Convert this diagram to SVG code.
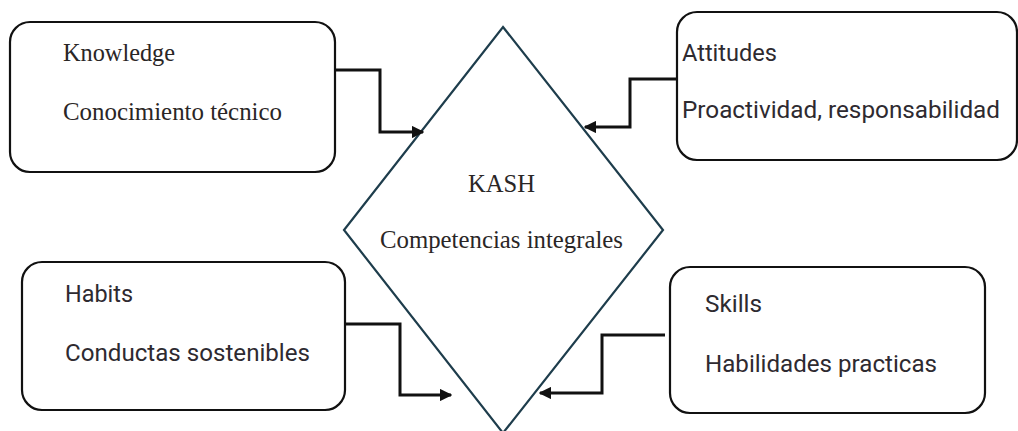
<svg xmlns="http://www.w3.org/2000/svg" width="1018" height="431" viewBox="0 0 1018 431">
  <style>
    .box { fill: #ffffff; stroke: #111111; stroke-width: 2.2; }
    .hub { fill: #ffffff; stroke: #1e3d4c; stroke-width: 2.2; }
    .serif { font-family: "Liberation Serif", "Times New Roman", serif; font-size: 26px; fill: #2a2626; }
    .sans { font-family: Roboto, "Liberation Sans", Arial, sans-serif; font-size: 24px; fill: #2e2a30; }
    .link { fill: none; stroke: #111111; stroke-width: 3; }
  </style>
  <defs>
    <marker id="head" viewBox="0 0 10 10" refX="9" refY="5" markerWidth="4.2" markerHeight="4.2" markerUnits="strokeWidth" orient="auto">
      <path d="M0,0 L10,5 L0,10 z" fill="#111111"/>
    </marker>
  </defs>
  <rect width="1018" height="431" fill="#ffffff"/>

  <!-- central competency diamond -->
  <g id="kash">
    <polygon class="hub" points="503,27 663,230 503,433 344,230"/>
    <text class="serif" x="468" y="192" textLength="67" lengthAdjust="spacingAndGlyphs">KASH</text>
    <text class="serif" x="380" y="248" textLength="243" lengthAdjust="spacingAndGlyphs">Competencias integrales</text>
  </g>

  <g id="knowledge">
    <rect class="box" x="10" y="22" width="325" height="150" rx="20"/>
    <text class="serif" x="63" y="61" textLength="112" lengthAdjust="spacingAndGlyphs">Knowledge</text>
    <text class="serif" x="63" y="120" textLength="219" lengthAdjust="spacingAndGlyphs">Conocimiento técnico</text>
  </g>

  <g id="attitudes">
    <rect class="box" x="677" y="12" width="340" height="148" rx="20"/>
    <text class="sans" x="682" y="61" textLength="95" lengthAdjust="spacingAndGlyphs">Attitudes</text>
    <text class="sans" x="682" y="118" textLength="318" lengthAdjust="spacingAndGlyphs">Proactividad, responsabilidad</text>
  </g>

  <g id="habits">
    <rect class="box" x="22" y="262" width="323" height="148" rx="20"/>
    <text class="sans" x="65" y="302" textLength="68" lengthAdjust="spacingAndGlyphs">Habits</text>
    <text class="sans" x="65" y="361" textLength="245" lengthAdjust="spacingAndGlyphs">Conductas sostenibles</text>
  </g>

  <g id="skills">
    <rect class="box" x="670" y="267" width="315" height="146" rx="20"/>
    <text class="sans" x="705" y="312" textLength="57" lengthAdjust="spacingAndGlyphs">Skills</text>
    <text class="sans" x="705" y="372" textLength="232" lengthAdjust="spacingAndGlyphs">Habilidades practicas</text>
  </g>

  <!-- elbow connectors feeding the diamond -->
  <g id="connectors">
    <polyline class="link" points="335,70 380,70 380,132 423,132" marker-end="url(#head)"/>
    <polyline class="link" points="677,79 630,79 630,127 585,127" marker-end="url(#head)"/>
    <polyline class="link" points="345,324 400,324 400,395 451,395" marker-end="url(#head)"/>
    <polyline class="link" points="665,335 602,335 602,393 540,393" marker-end="url(#head)"/>
  </g>
</svg>
